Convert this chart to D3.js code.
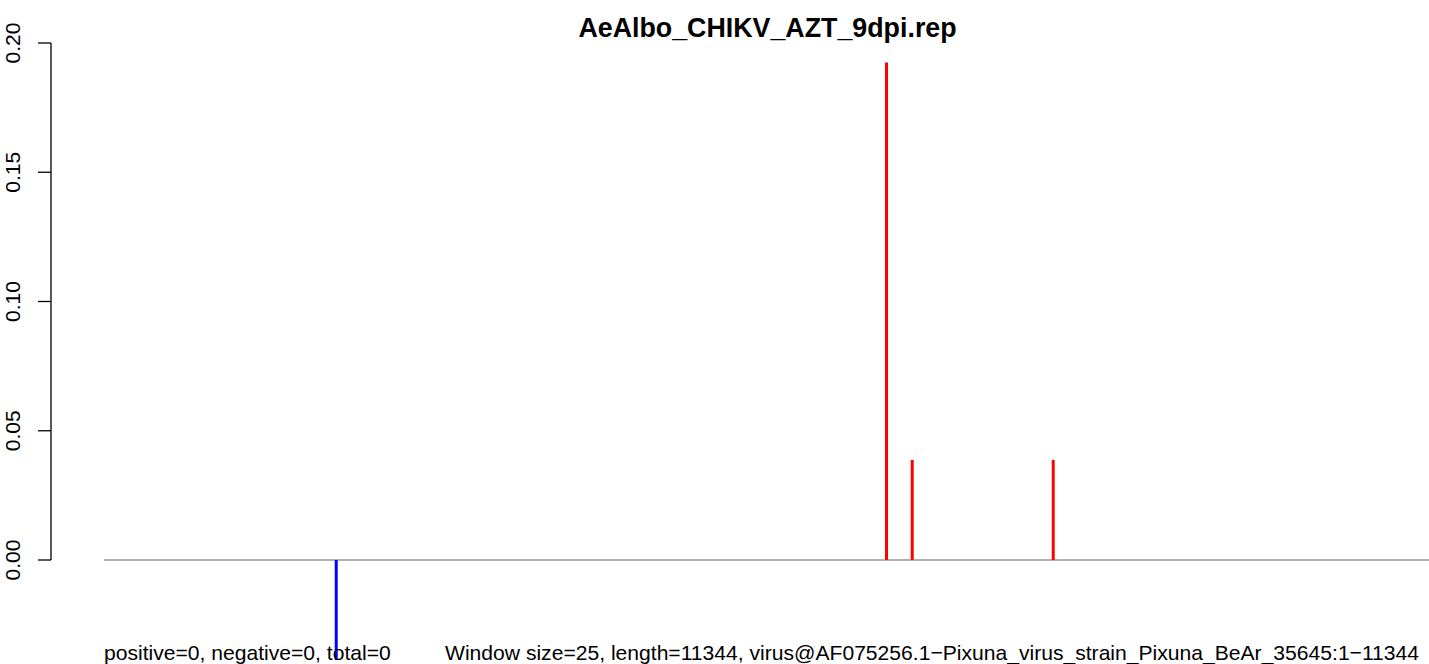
<!DOCTYPE html>
<html><head><meta charset="utf-8">
<script src="https://cdn.jsdelivr.net/npm/d3@7"></script>
<style>body{margin:0;background:#fff}svg{display:block}text{font-family:"Liberation Sans",Arial,Helvetica,sans-serif}</style>
</head><body>
<script>
const title = "AeAlbo_CHIKV_AZT_9dpi.rep";
const genomeLength = 11344;
const posPositions = [6700, 6920, 8127];
const posValues = [0.1925, 0.0387, 0.0387];
const negPositions = [1989];
const negValues = [-0.0387];
const yTicks = [0.00, 0.05, 0.10, 0.15, 0.20];
const leftNote = "positive=0, negative=0, total=0";
const rightNote = "Window size=25, length=11344, virus@AF075256.1\u2212Pixuna_virus_strain_Pixuna_BeAr_35645:1\u221211344";

const W = 1429, H = 664;
const svg = d3.select("body").append("svg").attr("width", W).attr("height", H);
const x = d3.scaleLinear().domain([1, genomeLength]).range([104, 1429]);
const y = d3.scaleLinear().domain([0, 0.20]).range([560, 43]);

// title
svg.append("text").attr("x", 767.5).attr("y", 36.5).attr("text-anchor", "middle")
  .attr("font-size", 26.8).attr("font-weight", "bold").text(title);

// y axis
const yAxis = d3.axisLeft(y).tickValues(yTicks).tickFormat(d3.format(".2f")).tickSize(13).tickPadding(0);
const ga = svg.append("g").attr("transform", "translate(51,0)").call(yAxis);
ga.attr("font-family", null);
ga.select(".domain").attr("d", `M0,${y(0)}V${y(0.20)}`).attr("stroke", "#000").attr("stroke-width", 1.3);
ga.selectAll(".tick").each(function(d){
  const t = d3.select(this);
  t.attr("transform", null);
  t.select("line").attr("y1", y(d)).attr("y2", y(d)).attr("x2", -13)
    .attr("stroke", "#000").attr("stroke-width", 1.3);
  t.select("text").attr("font-size", 21).attr("fill", "#000").attr("text-anchor", "middle")
    .attr("dy", 0).attr("transform", "rotate(-90)").attr("x", -y(d)).attr("y", -31);
});

// baseline
svg.append("line").attr("x1", x(1)).attr("x2", x(genomeLength))
  .attr("y1", y(0)).attr("y2", y(0)).attr("stroke", "#9a9a9a").attr("stroke-width", 1.5);

// bars
svg.selectAll("line.pos").data(posPositions.map((p,i)=>({p, v: posValues[i]}))).join("line")
  .attr("class", "pos").attr("x1", d=>x(d.p)).attr("x2", d=>x(d.p))
  .attr("y1", y(0)).attr("y2", d=>y(d.v)).attr("stroke", "#ff0000").attr("stroke-width", 3);
svg.selectAll("line.neg").data(negPositions.map((p,i)=>({p, v: negValues[i]}))).join("line")
  .attr("class", "neg").attr("x1", d=>x(d.p)).attr("x2", d=>x(d.p))
  .attr("y1", y(0)).attr("y2", d=>y(d.v)).attr("stroke", "#0000ff").attr("stroke-width", 3);

// notes
svg.append("text").attr("x", 104).attr("y", 660).attr("font-size", 21.1).text(leftNote);
svg.append("text").attr("x", 445).attr("y", 660).attr("font-size", 21.1).text(rightNote);
</script>
</body></html>
